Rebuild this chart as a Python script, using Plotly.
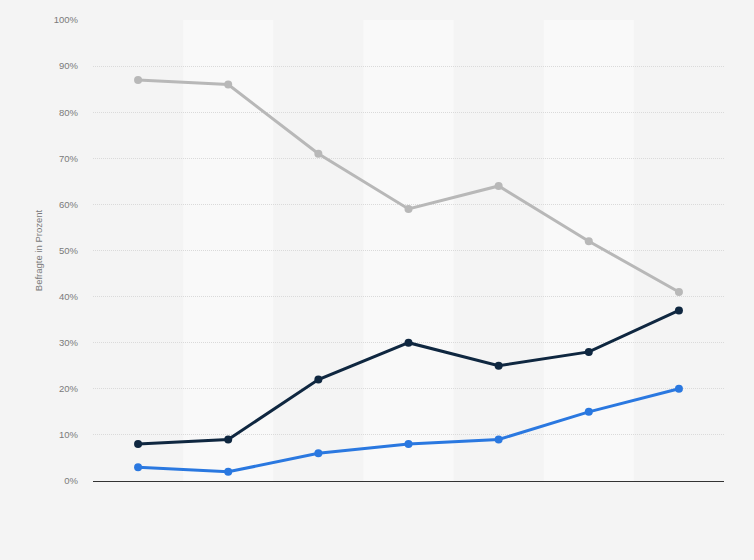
import plotly.graph_objects as go

# Seven survey waves (no labels shown on the axis)
categories = ["1", "2", "3", "4", "5", "6", "7"]
grey_series = [87, 86, 71, 59, 64, 52, 41]
navy_series = [8, 9, 22, 30, 25, 28, 37]
blue_series = [3, 2, 6, 8, 9, 15, 20]
y_ticks = [0, 10, 20, 30, 40, 50, 60, 70, 80, 90, 100]
y_tick_labels = [f"{v}%" for v in y_ticks]

fig = go.Figure()

for values, color in [(grey_series, "#b8b8b8"),
                      (navy_series, "#0f2740"),
                      (blue_series, "#2a78e0")]:
    fig.add_trace(go.Scatter(
        x=categories,
        y=values,
        mode="lines+markers",
        line=dict(color=color, width=3),
        marker=dict(color=color, size=8),
        showlegend=False,
        cliponaxis=False,
    ))

# lighter alternating column bands
for i in range(1, len(categories), 2):
    fig.add_shape(
        type="rect", xref="x", yref="y",
        x0=i - 0.5, x1=i + 0.5, y0=0, y1=100,
        fillcolor="#f9f9f9", line_width=0, layer="below",
    )

fig.update_layout(
    width=754,
    height=560,
    margin=dict(l=93, r=30, t=20, b=79),
    paper_bgcolor="#f4f4f4",
    plot_bgcolor="#f4f4f4",
    font=dict(family="Liberation Sans, Arial, sans-serif", color="#7a7a7a", size=9.5),
    xaxis=dict(
        type="category",
        range=[-0.5, len(categories) - 0.5],
        showticklabels=False,
        showgrid=False,
        zeroline=False,
        showline=True,
        linecolor="#333333",
        linewidth=1,
        ticks="",
    ),
    yaxis=dict(
        range=[0, 100],
        tickvals=y_ticks,
        ticktext=y_tick_labels,
        showgrid=True,
        gridcolor="#dadada",
        griddash="1px,1px",
        gridwidth=1,
        zeroline=False,
        ticks="",
        ticklabelstandoff=14,
        title=dict(text="Befragte in Prozent", font=dict(size=9.5, color="#7a7a7a"), standoff=9),
    ),
)

fig.write_html("out.html", config={"displayModeBar": False},
               post_script="document.body.style.margin='0';")
